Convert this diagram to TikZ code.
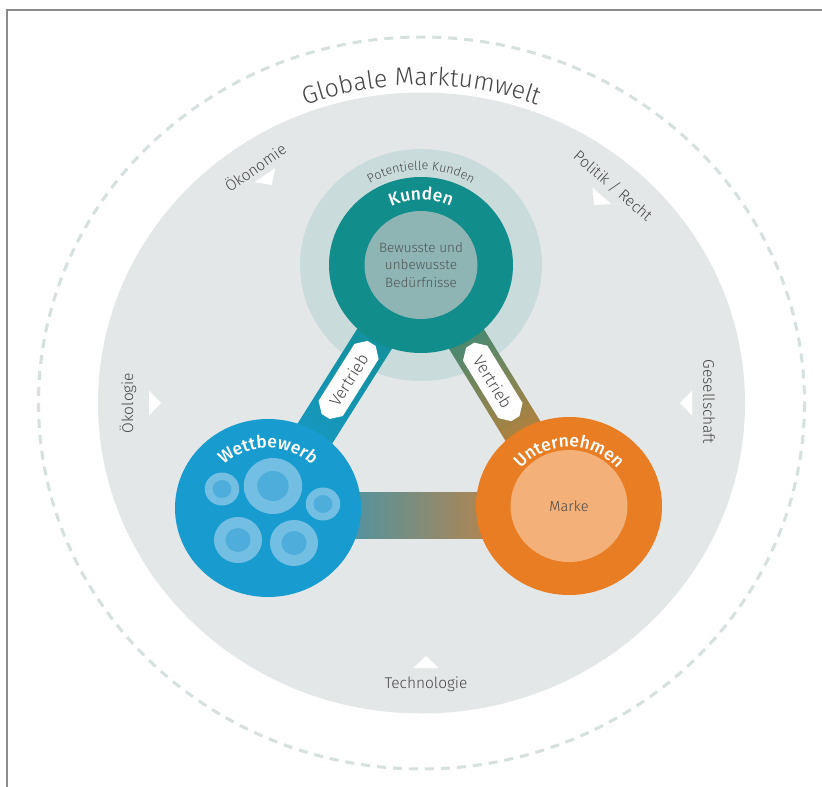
\documentclass[tikz,border=0pt]{standalone}
\usepackage{fontspec}
\setmainfont{Fira Sans Light}[BoldFont={Fira Sans Medium}]
\usetikzlibrary{calc,decorations.text,shapes.misc}

\definecolor{framecol}{HTML}{8A8A8A}
\definecolor{dashcol}{HTML}{D5E0DF}
\definecolor{envgray}{HTML}{E4E7E8}
\definecolor{halo}{HTML}{CADBDB}
\definecolor{kteal}{HTML}{118D8B}
\definecolor{kinner}{HTML}{8EB4B3}
\definecolor{wblue}{HTML}{189BCF}
\definecolor{bubout}{HTML}{72BFE3}
\definecolor{bubin}{HTML}{4EADDA}
\definecolor{uorange}{HTML}{E97D23}
\definecolor{umarke}{HTML}{F3B179}
\definecolor{txtdark}{HTML}{464646}
\definecolor{txtinner}{HTML}{4E5656}

\begin{document}
\begin{tikzpicture}[x=1pt,y=-1pt,
  outerlabel/.style={font=\fontsize{15.5}{15.5}\selectfont, text=txtdark, inner sep=0pt},
  marker/.style={fill=white},
  vlabel/.style={chamfered rectangle, chamfered rectangle xsep=6pt, fill=white,
    inner xsep=8pt, inner ysep=4.5pt, font=\fontsize{16.5}{16.5}\selectfont, text=txtdark, sloped},
]
\useasboundingbox (0,0) rectangle (822,787);
\fill[white] (0,0) rectangle (822,787);

% frame
\draw[framecol, line width=2] (7,787) -- (7,10) -- (822,10);

% centres
\coordinate (C) at (421.5,403);
\coordinate (K) at (421,265);
\coordinate (W) at (268,508);
\coordinate (U) at (569,506);

% market environment
\draw[dashcol, line width=3, dash pattern=on 9pt off 7pt] (C) ellipse[x radius=383, y radius=366];
\fill[envgray] (C) ellipse[x radius=323.5, y radius=310.5];

\path[decorate, decoration={text along path, text align=center, text color=txtdark,
  text={|\fontsize{25}{25}\selectfont|Globale Marktumwelt}}]
  ($(C)+(230:332 and 318)$) arc[start angle=230, end angle=310, x radius=332, y radius=318];

% environment factors
\node[outerlabel, rotate=35] (oekonomie) at (255,167) {Ökonomie};
\node[outerlabel, rotate=-41] (politik) at (613,186) {Politik / Recht};
\node[outerlabel, rotate=-90] (gesellschaft) at (709,402) {Gesellschaft};
\node[outerlabel] (technologie) at (426,684) {Technologie};
\node[outerlabel, rotate=90] (oekologie) at (128,403) {Ökologie};

\fill[marker] (275.3,167.9) -- (254.7,182.1) -- (271.8,184.9) -- cycle;
\fill[marker] (611.4,204.2) -- (592.6,187.8) -- (594.1,205.0) -- cycle;
\fill[marker] (692,390.5) -- (692,415.5) -- (680,403) -- cycle;
\fill[marker] (149,390.5) -- (149,415.5) -- (161,403) -- cycle;
\fill[marker] (413.5,668) -- (438.5,668) -- (426,656) -- cycle;

% potential customers
\fill[halo] (K) ellipse[x radius=121, y radius=116];
\path[decorate, decoration={text along path, text align=center, text color=txtdark,
  text={|\fontsize{12.5}{12.5}\selectfont|Potentielle Kunden}}]
  ($(K)+(180:99 and 95)$) arc[start angle=180, end angle=360, x radius=99, y radius=95];

% connecting bars
\shade[top color=kteal, bottom color=wblue, shading angle=-32]
  ($(K)!20pt!90:(W)$) -- ($(W)!20pt!-90:(K)$) -- ($(W)!20pt!90:(K)$) -- ($(K)!20pt!-90:(W)$) -- cycle;
\shade[top color=kteal, bottom color=uorange, shading angle=31]
  ($(K)!20pt!90:(U)$) -- ($(U)!20pt!-90:(K)$) -- ($(U)!20pt!90:(K)$) -- ($(K)!20pt!-90:(U)$) -- cycle;
\shade[left color=wblue, right color=uorange]
  ($(W)+(0,-16)$) rectangle ($(U)+(0,32)$);

% customers
\fill[kteal] (K) ellipse[x radius=92, y radius=88];
\fill[kinner] (K) ellipse[x radius=56.5, y radius=54];
\path[decorate, decoration={text along path, text align=center, text color=white,
  text={|\fontsize{17.5}{17.5}\bfseries|Kunden}}]
  ($(K)+(180:68 and 65)$) arc[start angle=180, end angle=360, x radius=68, y radius=65];
\node[align=center, font=\fontsize{13.5}{17.5}\selectfont, text=txtinner] (beduerfnisse) at (K)
  {Bewusste und\\unbewusste\\Bedürfnisse};

% competition
\fill[wblue] (W) ellipse[x radius=93, y radius=89];
\foreach \bx/\by/\ro/\ri in {273/486/28/15, 222/489/16.5/9, 323/504/16.5/9, 238/540/23/12, 294/543/23/12}{
  \fill[bubout] (\bx,\by) ellipse[x radius=1.045*\ro, y radius=\ro];
  \fill[bubin] (\bx,\by) ellipse[x radius=1.045*\ri, y radius=\ri];
}
\path[decorate, decoration={text along path, text align=center, text color=white,
  text={|\fontsize{17.5}{17.5}\bfseries|Wettbewerb}}]
  ($(W)+(180:63 and 60)$) arc[start angle=180, end angle=360, x radius=63, y radius=60];

% company
\fill[uorange] (U) ellipse[x radius=93, y radius=89];
\fill[umarke] (U) ellipse[x radius=58.5, y radius=56];
\path[decorate, decoration={text along path, text align=center, text color=white,
  text={|\fontsize{17.5}{17.5}\bfseries|Unternehmen}}]
  ($(U)+(180:62 and 59)$) arc[start angle=180, end angle=360, x radius=62, y radius=59];
\node[font=\fontsize{14.5}{14.5}\selectfont, text=txtdark] (marke) at (U) {Marke};

% sales channel labels
\path (W) -- node[vlabel, pos=0.527] (vertriebW) {Vertrieb} (K);
\path (K) -- node[vlabel, pos=0.485] (vertriebU) {Vertrieb} (U);
\end{tikzpicture}
\end{document}
